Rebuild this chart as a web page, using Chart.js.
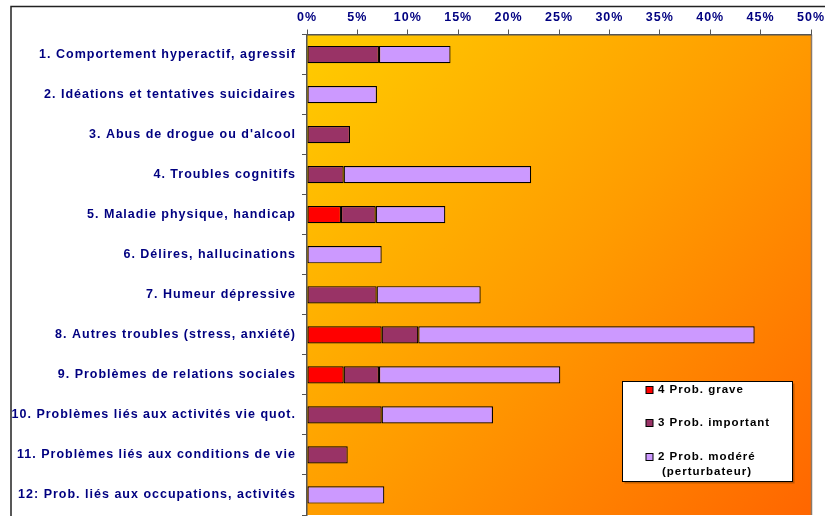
<!DOCTYPE html>
<html>
<head>
<meta charset="utf-8">
<script src="https://cdn.jsdelivr.net/npm/chart.js@4/dist/chart.umd.min.js"></script>
<style>
  html, body { margin: 0; padding: 0; background: #fff; }
  #chart { display: block; }
</style>
</head>
<body>
<canvas id="chart" width="825" height="516"></canvas>
<script>
// categories (top to bottom)
const categories = [
    '1. Comportement hyperactif, agressif',
    '2. Idéations et tentatives suicidaires',
    "3. Abus de drogue ou d'alcool",
    '4. Troubles cognitifs',
    '5. Maladie physique, handicap',
    '6. Délires, hallucinations',
    '7. Humeur dépressive',
    '8. Autres troubles (stress, anxiété)',
    '9. Problèmes de relations sociales',
    '10. Problèmes liés aux activités vie quot.',
    '11. Problèmes liés aux conditions de vie',
    '12: Prob. liés aux occupations, activités'
];

// series values, in % (null = no segment)
const probGrave     = [null, null, null, null, 3.37, null, null, 7.41, 3.64, null, null, null];
const probImportant = [7.14, null, 4.27, 3.64, 3.45, null, 6.91, 3.63, 3.50, 7.41, 4.04, null];
const probModere    = [7.10, 6.94, null, 18.6, 6.90, 7.41, 10.32, 33.37, 17.99, 11.04, null, 7.67];

const seriesNames = ['4 Prob. grave', '3 Prob. important', '2 Prob. modéré\n(perturbateur)'];
const seriesColors = ['#FF0000', '#993366', '#CC99FF'];

// x axis ticks
const xTicks = [0, 5, 10, 15, 20, 25, 30, 35, 40, 45, 50];

const navy = '#000080';
const labelFont = { family: "'Liberation Sans', Arial, sans-serif", size: 12.5, weight: 'bold' };

// the old office charts spread their letters a bit
const spacingPlugin = {
    id: 'spacing',
    beforeLayout(chart) { chart.ctx.letterSpacing = '1px'; },
    beforeDraw(chart) { chart.ctx.letterSpacing = '1px'; }
};

// gradient behind the plot + outer frame
const backdropPlugin = {
    id: 'backdrop',
    beforeDraw(chart) {
        const ctx = chart.ctx;
        const a = chart.chartArea;
        ctx.save();
        const g = ctx.createLinearGradient(a.left, a.top, a.right, a.bottom);
        g.addColorStop(0, '#FFCC00');
        g.addColorStop(0.5, '#FF9C00');
        g.addColorStop(1, '#FF6600');
        ctx.fillStyle = g;
        ctx.fillRect(a.left, a.top, a.right - a.left, a.bottom - a.top);
        // right edge of plot
        ctx.strokeStyle = '#8a7a6a';
        ctx.lineWidth = 1.5;
        ctx.beginPath();
        ctx.moveTo(a.right + 0.5, a.top);
        ctx.lineTo(a.right + 0.5, a.bottom);
        ctx.stroke();
        // outer frame
        ctx.strokeStyle = '#222';
        ctx.lineWidth = 1.5;
        ctx.beginPath();
        ctx.moveTo(11, 600);
        ctx.lineTo(11, 6.5);
        ctx.lineTo(900, 6.5);
        ctx.stroke();
        ctx.restore();
    }
};

// legend box inside the plot (bottom right)
const boxLegendPlugin = {
    id: 'boxLegend',
    afterDraw(chart) {
        const ctx = chart.ctx;
        const x = 622.5, y = 381.5, w = 170, h = 100;
        ctx.save();
        ctx.fillStyle = 'rgba(80,40,0,0.35)';
        ctx.fillRect(x + 2, y + 2, w, h);
        ctx.fillStyle = '#fff';
        ctx.fillRect(x, y, w, h);
        ctx.strokeStyle = '#000';
        ctx.lineWidth = 1;
        ctx.strokeRect(x, y, w, h);
        ctx.font = "bold 11.5px 'Liberation Sans', Arial, sans-serif";
        ctx.letterSpacing = '1px';
        ctx.textBaseline = 'middle';
        ctx.textAlign = 'left';
        const rowsY = [390, 423, 457];
        chart.data.datasets.forEach((ds, i) => {
            const cy = rowsY[i];
            ctx.fillStyle = ds.backgroundColor;
            ctx.fillRect(646, cy - 3.5, 7, 7);
            ctx.strokeStyle = '#000';
            ctx.strokeRect(646, cy - 3.5, 7, 7);
            ctx.fillStyle = '#000';
            ds.label.split('\n').forEach((line, j) => {
                ctx.fillText(line, j === 0 ? 658 : 662, cy + j * 15);
            });
        });
        ctx.restore();
    }
};

const ctx = document.getElementById('chart').getContext('2d');
new Chart(ctx, {
    type: 'bar',
    data: {
        labels: categories,
        datasets: [probGrave, probImportant, probModere].map((vals, i) => ({
            label: seriesNames[i],
            data: vals,
            backgroundColor: seriesColors[i],
            borderColor: '#000',
            borderWidth: 1.2,
            borderSkipped: false,
            barPercentage: 0.43,
            categoryPercentage: 1
        }))
    },
    options: {
        indexAxis: 'y',
        responsive: false,
        animation: false,
        layout: { padding: { left: 0, top: 0, right: 14, bottom: 1 } },
        scales: {
            x: {
                position: 'top',
                stacked: true,
                min: 0,
                max: 50,
                afterBuildTicks: (scale) => { scale.ticks = xTicks.map(v => ({ value: v })); },
                afterFit: (scale) => {
                    scale.height = 34.5;
                    scale.paddingLeft = 0;
                    scale.paddingRight = 0;
                },
                ticks: {
                    color: navy,
                    font: labelFont,
                    padding: 4,
                    maxRotation: 0,
                    callback: (v) => v + '%'
                },
                grid: { drawOnChartArea: false, tickLength: 5, color: '#555' },
                border: { color: '#555', width: 1.5 }
            },
            y: {
                stacked: true,
                afterFit: (scale) => {
                    scale.width = 307;
                    scale.paddingTop = 0;
                    scale.paddingBottom = 0;
                },
                ticks: {
                    color: navy,
                    font: labelFont,
                    padding: 6,
                    autoSkip: false
                },
                grid: { drawOnChartArea: false, tickLength: 5, color: '#555', offset: true },
                border: { color: '#555', width: 1.5 }
            }
        },
        plugins: {
            legend: { display: false },
            tooltip: { enabled: false }
        }
    },
    plugins: [spacingPlugin, backdropPlugin, boxLegendPlugin]
});
</script>
</body>
</html>
